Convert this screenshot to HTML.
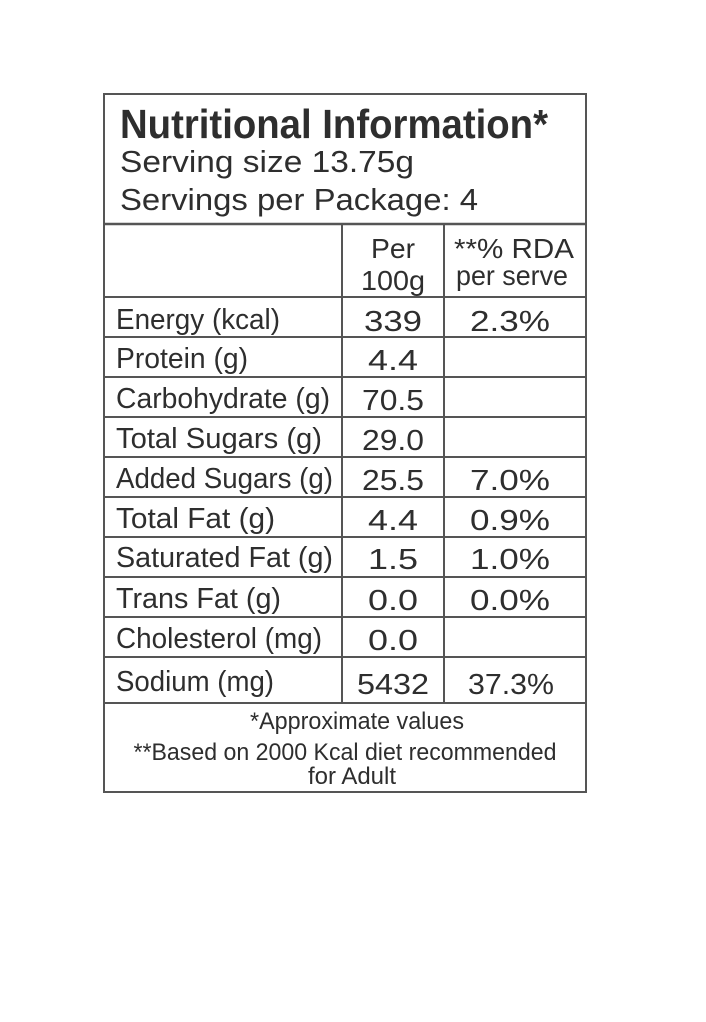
<!DOCTYPE html>
<html><head><meta charset="utf-8"><style>
html,body{margin:0;padding:0;background:#fff;}
svg{display:block;}
text{font-family:"Liberation Sans Narrow","Liberation Sans",sans-serif;fill:#2e2e2e;}
</style></head><body>
<svg width="706" height="1022" viewBox="0 0 706 1022">
<g stroke="#555" stroke-width="2" fill="none">
<rect x="104" y="94" width="482" height="698"/>
<line x1="104" y1="224" x2="586" y2="224" stroke-width="2.5"/>
<line x1="342" y1="224" x2="342" y2="703"/>
<line x1="444" y1="224" x2="444" y2="703"/>
<line x1="104" y1="297" x2="586" y2="297"/>
<line x1="104" y1="337" x2="586" y2="337"/>
<line x1="104" y1="377" x2="586" y2="377"/>
<line x1="104" y1="417" x2="586" y2="417"/>
<line x1="104" y1="457" x2="586" y2="457"/>
<line x1="104" y1="497" x2="586" y2="497"/>
<line x1="104" y1="537" x2="586" y2="537"/>
<line x1="104" y1="577" x2="586" y2="577"/>
<line x1="104" y1="617" x2="586" y2="617"/>
<line x1="104" y1="657" x2="586" y2="657"/>
<line x1="104" y1="703" x2="586" y2="703"/>
</g>
<text x="120" y="138" font-size="41" font-weight="bold" textLength="428" lengthAdjust="spacingAndGlyphs">Nutritional Information*</text>
<text x="120" y="172" font-size="31" textLength="294" lengthAdjust="spacingAndGlyphs">Serving size 13.75g</text>
<text x="120" y="210" font-size="31" textLength="358" lengthAdjust="spacingAndGlyphs">Servings per Package: 4</text>
<text x="393" y="258" font-size="28" text-anchor="middle" textLength="44" lengthAdjust="spacingAndGlyphs">Per</text>
<text x="393" y="290" font-size="28" text-anchor="middle" textLength="64" lengthAdjust="spacingAndGlyphs">100g</text>
<text x="514" y="258" font-size="28" text-anchor="middle" textLength="120" lengthAdjust="spacingAndGlyphs">**% RDA</text>
<text x="512" y="285" font-size="28" text-anchor="middle" textLength="112" lengthAdjust="spacingAndGlyphs">per serve</text>
<g font-size="29">
<text x="116" y="329" textLength="164" lengthAdjust="spacingAndGlyphs">Energy (kcal)</text>
<text x="393" y="331" text-anchor="middle" textLength="58" lengthAdjust="spacingAndGlyphs">339</text>
<text x="510" y="331" text-anchor="middle" textLength="80" lengthAdjust="spacingAndGlyphs">2.3%</text>
<text x="116" y="368" textLength="132" lengthAdjust="spacingAndGlyphs">Protein (g)</text>
<text x="393" y="370" text-anchor="middle" textLength="50" lengthAdjust="spacingAndGlyphs">4.4</text>
<text x="116" y="408" textLength="214" lengthAdjust="spacingAndGlyphs">Carbohydrate (g)</text>
<text x="393" y="410" text-anchor="middle" textLength="62" lengthAdjust="spacingAndGlyphs">70.5</text>
<text x="116" y="448" textLength="206" lengthAdjust="spacingAndGlyphs">Total Sugars (g)</text>
<text x="393" y="450" text-anchor="middle" textLength="62" lengthAdjust="spacingAndGlyphs">29.0</text>
<text x="116" y="488" textLength="217" lengthAdjust="spacingAndGlyphs">Added Sugars (g)</text>
<text x="393" y="490" text-anchor="middle" textLength="62" lengthAdjust="spacingAndGlyphs">25.5</text>
<text x="510" y="490" text-anchor="middle" textLength="80" lengthAdjust="spacingAndGlyphs">7.0%</text>
<text x="116" y="528" textLength="159" lengthAdjust="spacingAndGlyphs">Total Fat (g)</text>
<text x="393" y="530" text-anchor="middle" textLength="50" lengthAdjust="spacingAndGlyphs">4.4</text>
<text x="510" y="530" text-anchor="middle" textLength="80" lengthAdjust="spacingAndGlyphs">0.9%</text>
<text x="116" y="567" textLength="217" lengthAdjust="spacingAndGlyphs">Saturated Fat (g)</text>
<text x="393" y="569" text-anchor="middle" textLength="50" lengthAdjust="spacingAndGlyphs">1.5</text>
<text x="510" y="569" text-anchor="middle" textLength="80" lengthAdjust="spacingAndGlyphs">1.0%</text>
<text x="116" y="608" textLength="165" lengthAdjust="spacingAndGlyphs">Trans Fat (g)</text>
<text x="393" y="610" text-anchor="middle" textLength="50" lengthAdjust="spacingAndGlyphs">0.0</text>
<text x="510" y="610" text-anchor="middle" textLength="80" lengthAdjust="spacingAndGlyphs">0.0%</text>
<text x="116" y="648" textLength="206" lengthAdjust="spacingAndGlyphs">Cholesterol (mg)</text>
<text x="393" y="650" text-anchor="middle" textLength="50" lengthAdjust="spacingAndGlyphs">0.0</text>
<text x="116" y="691" textLength="158" lengthAdjust="spacingAndGlyphs">Sodium (mg)</text>
<text x="393" y="694" text-anchor="middle" textLength="72" lengthAdjust="spacingAndGlyphs">5432</text>
<text x="511" y="694" text-anchor="middle" textLength="86" lengthAdjust="spacingAndGlyphs">37.3%</text>
</g>
<text x="357" y="729" font-size="24" text-anchor="middle" textLength="214" lengthAdjust="spacingAndGlyphs">*Approximate values</text>
<text x="345" y="760" font-size="24" text-anchor="middle" textLength="423" lengthAdjust="spacingAndGlyphs">**Based on 2000 Kcal diet recommended</text>
<text x="352" y="784" font-size="24" text-anchor="middle" textLength="88" lengthAdjust="spacingAndGlyphs">for Adult</text>
</svg>
</body></html>
